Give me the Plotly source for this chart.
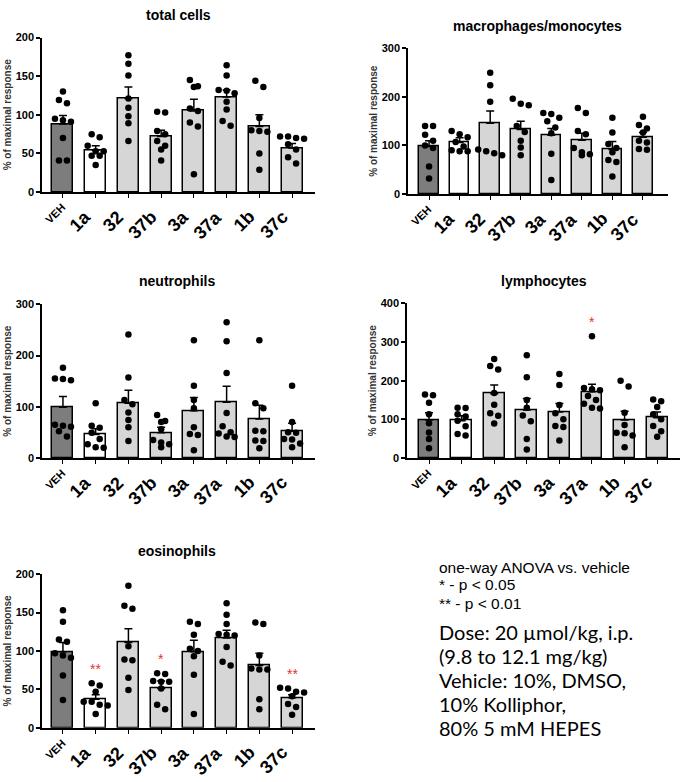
import numpy as np
import plotly.graph_objects as go

W, H = 683, 782

categories = ["VEH", "1a", "32", "37b", "3a", "37a", "1b", "37c"]
bar_colors = ["#7d7d7d", "#ffffff", "#d6d6d6", "#d6d6d6", "#d6d6d6", "#d6d6d6", "#d6d6d6", "#d6d6d6"]

# ---- total cells ----
total_means = [88, 54, 121, 72, 105, 123, 85, 57]
total_sems = [11, 6, 15, 8, 15, 9, 15, 6]
total_points = [
    [130, 119, 115, 95, 93, 91, 70, 41, 41],
    [75, 71, 60, 53, 53, 47, 47, 35],
    [177, 166, 151, 121, 109, 98, 89, 66],
    [104, 103, 79, 75, 66, 60, 55, 41],
    [145, 137, 136, 108, 105, 90, 85, 23],
    [164, 151, 132, 131, 128, 117, 107, 92, 86],
    [144, 136, 96, 80, 79, 78, 50, 29],
    [72, 72, 70, 69, 62, 55, 45, 37],
]
total_sig = ["", "", "", "", "", "", "", ""]

# ---- macrophages/monocytes ----
macro_means = [98, 106, 146, 133, 121, 111, 92, 117]
macro_sems = [12, 10, 25, 17, 14, 14, 16, 10]
macro_points = [
    [140, 140, 122, 110, 100, 95, 57, 32],
    [130, 123, 117, 107, 98, 90, 88, 88],
    [250, 224, 190, 92, 88, 84, 80],
    [196, 186, 183, 140, 128, 110, 96, 80],
    [167, 165, 157, 150, 137, 125, 83, 29],
    [177, 167, 130, 123, 95, 86, 82, 80],
    [157, 127, 103, 95, 86, 70, 66, 36],
    [159, 142, 135, 127, 110, 106, 93, 91],
]
macro_sig = ["", "", "", "", "", "", "", ""]

# ---- neutrophils ----
neutro_means = [99, 46, 107, 49, 92, 109, 76, 52]
neutro_sems = [21, 11, 25, 11, 26, 31, 27, 16]
neutro_points = [
    [176, 155, 154, 152, 65, 63, 61, 52, 42],
    [107, 63, 59, 49, 37, 27, 21, 20],
    [241, 157, 113, 105, 89, 74, 60, 33],
    [84, 72, 70, 56, 35, 30, 27, 21],
    [230, 141, 113, 97, 60, 47, 45, 15],
    [265, 228, 166, 88, 62, 50, 48, 42, 41],
    [230, 107, 97, 53, 52, 34, 33, 19],
    [141, 70, 50, 49, 37, 36, 28, 21],
]
neutro_sig = ["", "", "", "", "", "", "", ""]

# ---- lymphocytes ----
lympho_means = [98, 96, 166, 124, 119, 171, 98, 104]
lympho_sems = [19, 13, 23, 30, 22, 20, 23, 15]
lympho_points = [
    [164, 162, 143, 113, 90, 66, 49, 25],
    [130, 129, 113, 107, 96, 82, 62, 58],
    [256, 238, 229, 168, 138, 116, 109, 89],
    [266, 209, 150, 130, 110, 95, 49, 22],
    [217, 189, 137, 116, 100, 83, 80, 45],
    [315, 181, 178, 175, 160, 150, 140, 130, 128],
    [200, 185, 117, 85, 65, 64, 58, 28],
    [151, 147, 132, 113, 100, 83, 69, 55],
]
lympho_sig = ["", "", "", "", "", "*", "", ""]

# ---- eosinophils ----
eos_means = [99, 37, 111, 51, 99, 117, 81, 39]
eos_sems = [12, 6, 18, 10, 15, 10, 16, 4]
eos_points = [
    [153, 138, 115, 112, 97, 94, 91, 68, 36],
    [58, 55, 47, 34, 34, 30, 29, 18],
    [185, 159, 155, 106, 89, 88, 65, 49],
    [71, 70, 61, 60, 60, 51, 30, 24],
    [138, 135, 121, 103, 100, 93, 69, 18],
    [162, 147, 135, 122, 121, 120, 105, 86, 81],
    [137, 135, 94, 77, 76, 76, 37, 24],
    [52, 51, 47, 46, 41, 31, 27, 17],
]
eos_sig = ["", "**", "", "*", "", "", "", "**"]

titles = ["total cells", "macrophages/monocytes", "neutrophils", "lymphocytes", "eosinophils"]
y_max = [200, 300, 300, 400, 200]
y_step = [50, 100, 100, 100, 50]

notes_arial = ["one-way ANOVA vs. vehicle", "* - p < 0.05", "** - p < 0.01"]
notes_calibri = ["Dose: 20 µmol/kg, i.p.", "(9.8 to 12.1 mg/kg)", "Vehicle: 10%, DMSO,",
                 "10% Kolliphor,", "80% 5 mM HEPES"]

panels_data = [
    (total_means, total_sems, total_points, total_sig),
    (macro_means, macro_sems, macro_points, macro_sig),
    (neutro_means, neutro_sems, neutro_points, neutro_sig),
    (lympho_means, lympho_sems, lympho_points, lympho_sig),
    (eos_means, eos_sems, eos_points, eos_sig),
]

# layout geometry (pixels): x0, x1, y_top, y_zero, xrange, title center (x, y)
geom = [
    dict(x0=42, x1=315, yt=32, yz=189, xr=(-0.64, 7.70), tc=(178, 9)),
    dict(x0=408, x1=668, yt=43, yz=191, xr=(-0.69, 7.82), tc=(537, 20)),
    dict(x0=42, x1=315, yt=303, yz=459, xr=(-0.64, 7.70), tc=(177, 279)),
    dict(x0=407, x1=680, yt=302, yz=459, xr=(-0.675, 7.70), tc=(544, 279)),
    dict(x0=42, x1=315, yt=577, yz=733, xr=(-0.64, 7.70), tc=(177, 554)),
]

FONT = "Arial, 'Liberation Sans', sans-serif"
NOTE_FONT = "Lato, 'Open Sans', sans-serif"
BAR_W = 0.64
DOT = 6.5


def swarm(vals, px_y, px_x):
    """Arrange dots side by side where they would overlap vertically."""
    vals = np.asarray(vals, dtype=float)
    order = np.argsort(-vals)
    offs = np.zeros(len(vals))
    groups, cur = [], [order[0]]
    for idx in order[1:]:
        if (vals[cur[0]] - vals[idx]) * px_y < DOT:
            cur.append(idx)
        else:
            groups.append(cur)
            cur = [idx]
    groups.append(cur)
    for g in groups:
        n = len(g)
        for j, idx in enumerate(g):
            offs[idx] = (j - (n - 1) / 2) * (DOT + 1.5) / px_x
    return offs


fig = go.Figure()
annotations = []
layout_axes = {}

for k, ((means, sems, pts, sig), g, title, ymx, ystep) in enumerate(
        zip(panels_data, geom, titles, y_max, y_step), start=1):
    xa = "x" if k == 1 else f"x{k}"
    ya = "y" if k == 1 else f"y{k}"
    px_y = (g["yz"] - g["yt"]) / ymx
    px_x = (g["x1"] - g["x0"]) / (g["xr"][1] - g["xr"][0])
    idx = list(range(len(categories)))

    fig.add_trace(go.Bar(
        x=idx, y=means, width=BAR_W,
        marker=dict(color=bar_colors, line=dict(color="black", width=1.5)),
        error_y=dict(type="data", array=sems, arrayminus=[0] * len(sems), symmetric=False,
                     color="black", thickness=1.5, width=4),
        xaxis=xa, yaxis=ya, showlegend=False, hoverinfo="skip"))

    xs, ys = [], []
    for i, p in enumerate(pts):
        offs = swarm(p, px_y, px_x)
        xs += list(i + offs)
        ys += list(p)
    fig.add_trace(go.Scatter(
        x=xs, y=ys, mode="markers",
        marker=dict(color="black", size=DOT, line=dict(width=0)),
        xaxis=xa, yaxis=ya, showlegend=False, hoverinfo="skip", cliponaxis=False))

    ax_key = "xaxis" if k == 1 else f"xaxis{k}"
    ay_key = "yaxis" if k == 1 else f"yaxis{k}"
    layout_axes[ax_key] = dict(
        domain=[g["x0"] / W, g["x1"] / W], range=list(g["xr"]), anchor=ya,
        showline=True, linecolor="black", linewidth=1.5, showgrid=False, zeroline=False,
        ticks="outside", ticklen=4, tickwidth=1.2, tickcolor="black",
        tickvals=idx, showticklabels=False, fixedrange=True)
    layout_axes[ay_key] = dict(
        domain=[1 - g["yz"] / H, 1 - g["yt"] / H], range=[0, ymx], anchor=xa,
        showline=True, linecolor="black", linewidth=1.5, showgrid=False, zeroline=False,
        ticks="outside", ticklen=4, tickwidth=1.5, tickcolor="black",
        tickmode="linear", tick0=0, dtick=ystep,
        tickfont=dict(family=FONT, size=11, color="black", weight="bold"),
        title=dict(text="% of maximal response", standoff=2,
                   font=dict(family=FONT, size=10, color="#333333", weight="bold")),
        fixedrange=True)

    # title
    annotations.append(dict(
        text=f"<b>{title}</b>", x=g["tc"][0] / W, y=1 - g["tc"][1] / H,
        xref="paper", yref="paper", xanchor="center", yanchor="middle", showarrow=False,
        font=dict(family=FONT, size=14, color="black")))

    # category labels (rotated)
    for i, c in enumerate(categories):
        small = (i == 0)
        annotations.append(dict(
            text=f"<b>{c}</b>", x=i, xref=xa, y=0, yref=f"{ya} domain",
            xanchor="right", yanchor="top", showarrow=False, textangle=-45,
            xshift=8 if small else 2, yshift=-6 if small else -12,
            font=dict(family=FONT, size=11 if small else 18, color="black")))

    # significance marks
    for i, s in enumerate(sig):
        if s:
            annotations.append(dict(
                text=s, x=i, y=max(pts[i]), xref=xa, yref=ya,
                xanchor="center", yanchor="bottom", yshift=4, showarrow=False,
                font=dict(family=FONT, size=14, color="#e5332a")))

# notes
note_x = 437 / W
for t, yc in zip(notes_arial, [570, 588, 607]):
    annotations.append(dict(text=t, x=note_x, y=1 - yc / H, xref="paper", yref="paper",
                            xanchor="left", yanchor="middle", showarrow=False,
                            font=dict(family=FONT, size=15.5, color="black")))
for t, yc in zip(notes_calibri, [636, 660, 684, 709, 733]):
    annotations.append(dict(text=t, x=note_x, y=1 - yc / H, xref="paper", yref="paper",
                            xanchor="left", yanchor="middle", showarrow=False,
                            font=dict(family=NOTE_FONT, size=20, color="black")))

fig.update_layout(
    width=W, height=H, margin=dict(l=0, r=0, t=0, b=0),
    paper_bgcolor="white", plot_bgcolor="white",
    bargap=0, showlegend=False, annotations=annotations, **layout_axes)

fig.write_html("out.html", config={"displayModeBar": False},
               post_script="document.body.style.margin='0px';document.body.style.padding='0px';")
